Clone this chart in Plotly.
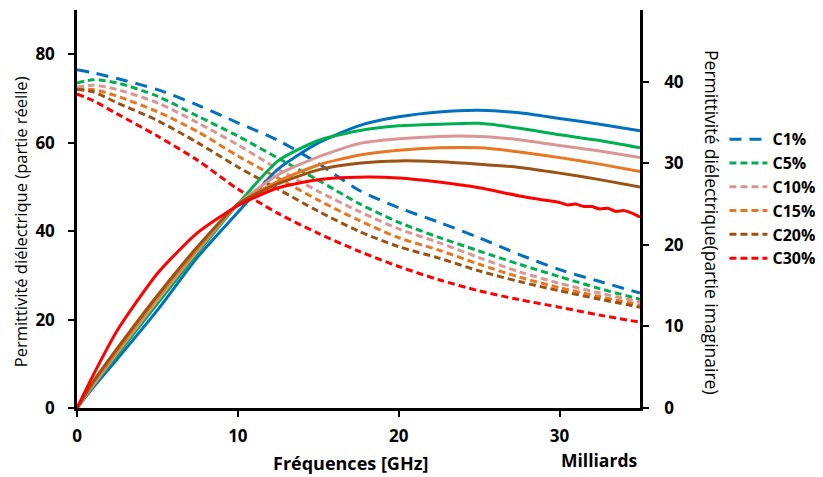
import plotly.graph_objects as go

freq_ghz = [0, 1, 2.5, 5, 7.5, 10, 12.5, 15, 17.5, 20, 22.5, 25, 27.5, 30, 32.5, 35]

series_names = ["C1%", "C5%", "C10%", "C15%", "C20%", "C30%"]

# Real part (left axis)
real_c1 = [76.5, 75.8, 74.5, 72.0, 68.5, 64.5, 60.5, 55.3, 49.3, 45.3, 42.0, 38.5, 34.7, 31.3, 28.6, 26.0]
real_c5 = [73.5, 74.2, 73.5, 70.5, 66.0, 61.5, 56.5, 51.5, 46.3, 42.0, 38.6, 35.5, 32.5, 29.7, 27.0, 24.6]
real_c10 = [72.5, 73.0, 72.0, 69.0, 64.5, 59.5, 54.0, 49.0, 44.5, 40.5, 37.4, 34.0, 30.8, 28.2, 26.0, 24.0]
real_c15 = [72.0, 72.0, 70.5, 67.0, 62.5, 57.0, 52.0, 47.0, 42.5, 38.5, 35.7, 32.5, 29.6, 27.2, 25.2, 23.3]
real_c20 = [72.0, 71.5, 69.0, 65.0, 60.0, 54.5, 49.5, 44.5, 40.0, 36.5, 33.9, 31.0, 28.6, 26.5, 24.6, 22.8]
real_c30 = [71.0, 69.5, 66.5, 61.5, 56.0, 49.5, 44.0, 39.5, 35.5, 32.0, 29.0, 26.5, 24.5, 22.8, 21.0, 19.4]

# Imaginary part (right axis)
imag_c1 = [0, 2.5, 6.0, 12.0, 18.5, 24.0, 29.3, 32.5, 34.6, 35.7, 36.3, 36.5, 36.2, 35.5, 34.8, 34.0]
imag_c5 = [0, 2.7, 6.5, 12.8, 19.0, 25.0, 30.3, 32.8, 34.0, 34.6, 34.8, 34.9, 34.3, 33.5, 32.8, 31.9]
imag_c10 = [0, 2.8, 6.8, 13.2, 19.3, 25.0, 28.6, 30.8, 32.4, 33.0, 33.3, 33.3, 32.9, 32.2, 31.5, 30.7]
imag_c15 = [0, 3.0, 7.0, 13.5, 19.5, 25.0, 27.8, 29.8, 31.0, 31.6, 31.9, 31.9, 31.4, 30.7, 29.9, 29.0]
imag_c20 = [0, 3.2, 7.3, 13.8, 19.8, 25.0, 27.5, 29.2, 30.0, 30.3, 30.2, 29.9, 29.5, 28.8, 28.0, 27.1]
freq_c30_imag = [0, 1, 2.5, 5, 7.5, 10, 12.5, 15, 17.5, 20, 22.5, 25, 27.5, 29, 30, 30.5, 31, 31.5, 32,
                 32.5, 33, 33.5, 34, 34.5, 35]
imag_c30 = [0, 4.0, 9.5, 16.5, 21.5, 24.8, 27.0, 28.0, 28.3, 28.2, 27.7, 27.0, 26.0, 25.5, 25.2, 24.9,
            25.0, 24.7, 24.7, 24.4, 24.5, 24.1, 24.2, 23.9, 23.4]

real_data = [real_c1, real_c5, real_c10, real_c15, real_c20, real_c30]
imag_data = [imag_c1, imag_c5, imag_c10, imag_c15, imag_c20, imag_c30]
imag_x = [freq_ghz] * 5 + [freq_c30_imag]

colors = ["#0070C0", "#00B050", "#DA9694", "#E87722", "#9C5212", "#FF0000"]
dashes = ["12px,8px", "7px,4px", "7px,4px", "7px,4px", "7px,4px", "7px,4px"]

fig = go.Figure()

for name, yv, c, d in zip(series_names, real_data, colors, dashes):
    fig.add_trace(go.Scatter(
        x=freq_ghz, y=yv, name=name, mode="lines", yaxis="y",
        line=dict(color=c, width=3, dash=d, shape="spline", smoothing=0.8),
    ))

for name, xv, yv, c in zip(series_names, imag_x, imag_data, colors):
    fig.add_trace(go.Scatter(
        x=xv, y=yv, name=name, mode="lines", yaxis="y2", showlegend=False,
        line=dict(color=c, width=3, shape="spline", smoothing=0.6),
    ))

tick_font = dict(family="Open Sans", size=17, color="black", weight="bold")

fig.update_layout(
    width=815, height=469,
    margin=dict(l=69, r=183, t=2, b=69, autoexpand=False),
    paper_bgcolor="white", plot_bgcolor="white",
    font=dict(family="Open Sans", color="black"),
    xaxis=dict(
        range=[0, 35], showgrid=False, zeroline=False,
        showline=True, linecolor="black", linewidth=2.5,
        ticks="outside", ticklen=6, tickwidth=2, tickcolor="black",
        tickvals=[0, 10, 20, 30], tickfont=tick_font, ticklabelstandoff=5,
    ),
    yaxis=dict(
        range=[0, 90], showgrid=False, zeroline=False,
        showline=True, linecolor="black", linewidth=2.5,
        ticks="outside", ticklen=6, tickwidth=2, tickcolor="black",
        tickvals=[0, 20, 40, 60, 80], tickfont=tick_font, ticklabelstandoff=10,
    ),
    yaxis2=dict(
        range=[0, 48.8], overlaying="y", side="right", showgrid=False, zeroline=False,
        showline=True, linecolor="black", linewidth=2.5,
        ticks="outside", ticklen=6, tickwidth=2, tickcolor="black",
        tickvals=[0, 10, 20, 30, 40], tickfont=tick_font, ticklabelstandoff=12,
    ),
    legend=dict(
        x=1.15, xref="paper", y=0.718, yanchor="top", xanchor="left",
        font=dict(family="Open Sans", size=16, color="black", weight="bold"),
        tracegroupgap=0, itemwidth=38, bgcolor="rgba(0,0,0,0)",
    ),
    showlegend=True,
)

fig.add_annotation(
    text="Permittivité diélectrique (partie réelle)", xref="paper", yref="paper",
    x=-0.101, y=0.467, xanchor="center", yanchor="middle", textangle=-90, showarrow=False,
    font=dict(family="Open Sans", size=16.5, color="black"),
)
fig.add_annotation(
    text="Permittivité diélectrique(partie imaginaire)", xref="paper", yref="paper",
    x=1.128, y=0.467, xanchor="center", yanchor="middle", textangle=90, showarrow=False,
    font=dict(family="Open Sans", size=17.5, color="black"),
)
fig.add_annotation(
    text="Fréquences [GHz]", xref="paper", yref="paper",
    x=0.485, y=-0.138, xanchor="center", yanchor="middle", showarrow=False,
    font=dict(family="Open Sans", size=18, color="black", weight="bold"),
)
fig.add_annotation(
    text="Milliards", xref="paper", yref="paper",
    x=0.927, y=-0.131, xanchor="center", yanchor="middle", showarrow=False,
    font=dict(family="Open Sans", size=17.5, color="black", weight="bold"),
)

fig.write_html("out.html")
